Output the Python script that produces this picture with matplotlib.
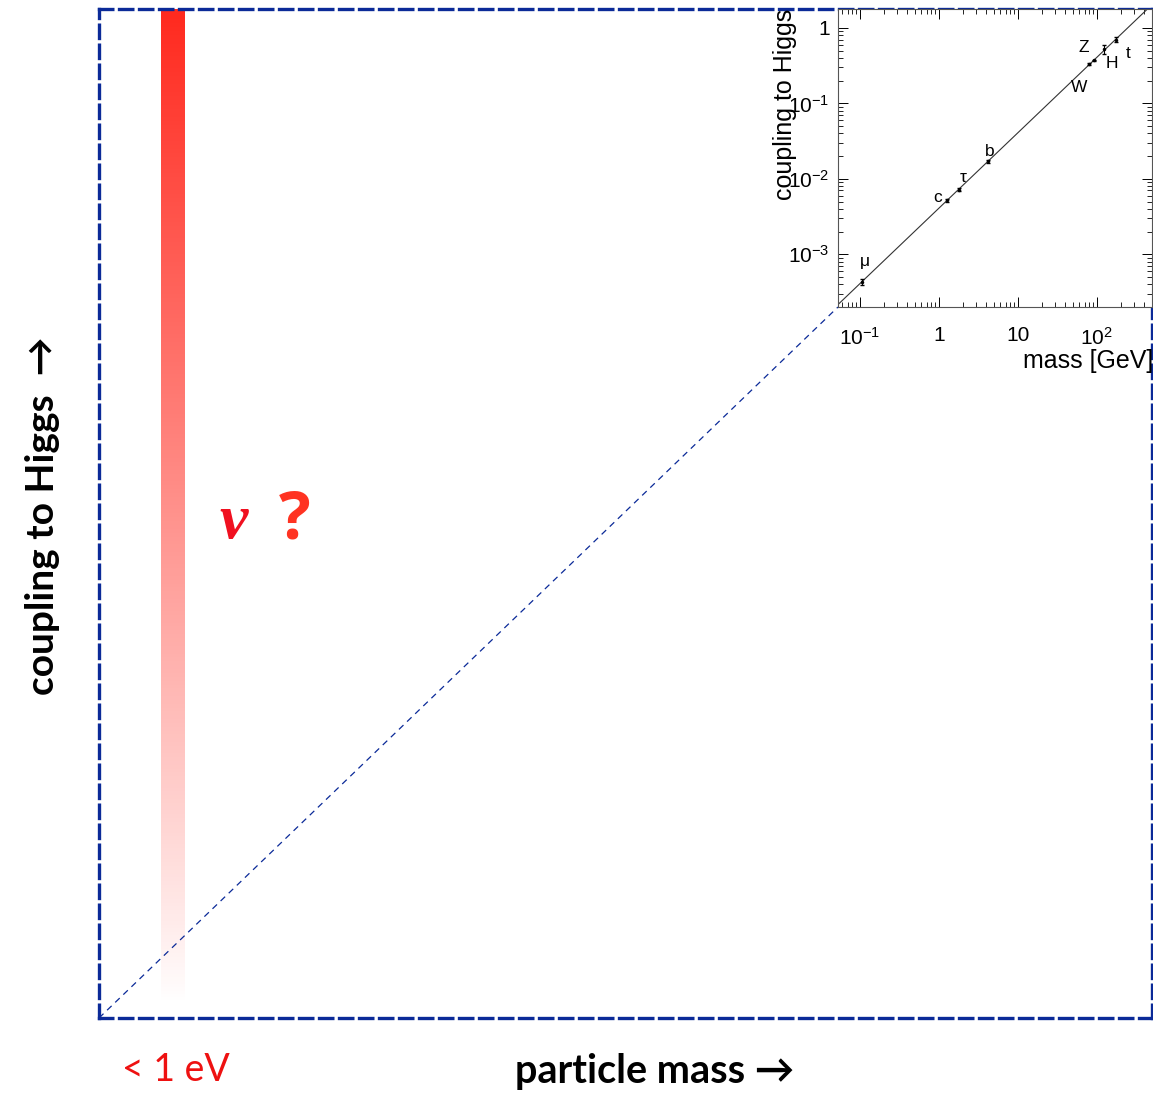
import numpy as np
import matplotlib
matplotlib.use('Agg')
import matplotlib.pyplot as plt
from matplotlib.colors import LinearSegmentedColormap

plt.rcParams['axes.unicode_minus'] = False

# particle masses [GeV] and their couplings to the Higgs
names = ['μ', 'c', 'τ', 'b', 'W', 'Z', 'H', 't']
mass = [0.1057, 1.27, 1.777, 4.18, 80.4, 91.2, 125.0, 173.0]
coupling = [4.3e-4, 5.2e-3, 7.2e-3, 0.017, 0.33, 0.37, 0.52, 0.70]
coupling_err = [0.4e-4, 0.2e-3, 0.3e-3, 0.001, 0.01, 0.01, 0.07, 0.05]
# label offsets in points (dx, dy)
lab_off = [(2, 15), (-7, 2), (3, 9), (1, 7), (-7, -17), (-7, 9), (5, -10), (9, -10)]

# standard-model line  g = m / v
vev = 246.0
line_m = [0.053, 500.0]

xlim_in = (0.053, 500.0)
ylim_in = (2.0e-4, 1.78)

W, H = 1153, 1093
fig = plt.figure(figsize=(W/100, H/100), dpi=100)

navy = '#0b2a98'
red = '#ff2a1f'

# main frame (dashed box)
ax = fig.add_axes([99/W, 1 - 1018/H, 1053/W, 1009/H])
ax.set_xlim(0, 1); ax.set_ylim(0, 1)
ax.set_xticks([]); ax.set_yticks([])
for s in ax.spines.values():
    s.set_color(navy)
    s.set_linewidth(2.4)
    s.set_linestyle((0, (4, 2)))

# neutrino band, fading out towards small couplings
cmap = LinearSegmentedColormap.from_list('fade', ['#ffffff', red])
grad = np.linspace(0, 1, 256).reshape(-1, 1) ** 0.95
ax.imshow(grad, cmap=cmap, origin='lower', aspect='auto',
          extent=(62/1053, 86/1053, 13/1009, 1.0), zorder=1, interpolation='bicubic')

# dashed extrapolation down to the origin
x0 = (838 - 99) / 1053
y0 = (1018 - 307) / 1009
ax.plot([0, x0], [0, y0], color=navy, lw=0.9, ls=(0, (5, 4)), zorder=3)

ax.text(0.114, 0.491, 'ν', color='#f01020', fontsize=46, fontweight='bold',
        fontstyle='italic', family='Liberation Serif', ha='left', va='center',
        transform=ax.transAxes)
ax.text(0.171, 0.493, '?', color='#ff3322', fontsize=48, fontweight='bold',
        family='Open Sans', ha='left', va='center', transform=ax.transAxes)

fam = ['Lato', 'DejaVu Sans']
fig.text(43/W, 1 - 516/H, 'coupling to Higgs  →', rotation=90, fontsize=28,
         fontweight='bold', family=fam, ha='center', va='center')
fig.text(655/W, 1 - 1072/H, 'particle mass →', fontsize=28.5, fontweight='bold',
         family=fam, ha='center', va='center')
fig.text(176/W, 1 - 1070/H, '< 1 eV', fontsize=27, color='#ee1111',
         family=fam, ha='center', va='center')

# inset: measured couplings
ins = fig.add_axes([838/W, 1 - 307/H, 314/W, 298/H])
ins.set_xscale('log'); ins.set_yscale('log')
ins.set_xlim(*xlim_in); ins.set_ylim(*ylim_in)
ins.plot(line_m, [m / vev for m in line_m], color='#333333', lw=0.8)
ins.errorbar(mass, coupling, yerr=coupling_err, fmt='o', ms=1.5, color='black',
             elinewidth=0.8, capsize=1.2)
for n, m, g, (dx, dy) in zip(names, mass, coupling, lab_off):
    ins.annotate(n, (m, g), xytext=(dx, dy), textcoords='offset points',
                 ha='center', va='center', fontsize=12.5, family='Liberation Sans')
ins.tick_params(which='both', direction='in', top=True, right=True,
                labelsize=15)
ins.tick_params(axis='x', pad=14)
ins.tick_params(axis='y', pad=6)
ins.tick_params(which='major', length=7, width=0.7)
ins.tick_params(which='minor', length=3.5, width=0.6)
ins.set_xticks([0.1, 1, 10, 100])
ins.set_xticklabels(['$\\mathregular{10^{-1}}$', '1', '10', '$\\mathregular{10^{2}}$'])
ins.set_yticks([1e-3, 1e-2, 1e-1, 1])
ins.set_yticklabels(['$\\mathregular{10^{-3}}$', '$\\mathregular{10^{-2}}$',
                     '$\\mathregular{10^{-1}}$', '1'])
for lab in ins.get_xticklabels() + ins.get_yticklabels():
    lab.set_family('Liberation Sans')
for s in ins.spines.values():
    s.set_color('#555555'); s.set_linewidth(0.8)
ins.set_xlabel('mass [GeV]', fontsize=18, family='Liberation Sans', ha='right')
ins.xaxis.set_label_coords(1.005, -0.14)
ins.set_ylabel('coupling to Higgs', fontsize=18, family='Liberation Sans', ha='right')
ins.yaxis.set_label_coords(-0.13, 1.0)

fig.savefig('out.png', dpi=100)
